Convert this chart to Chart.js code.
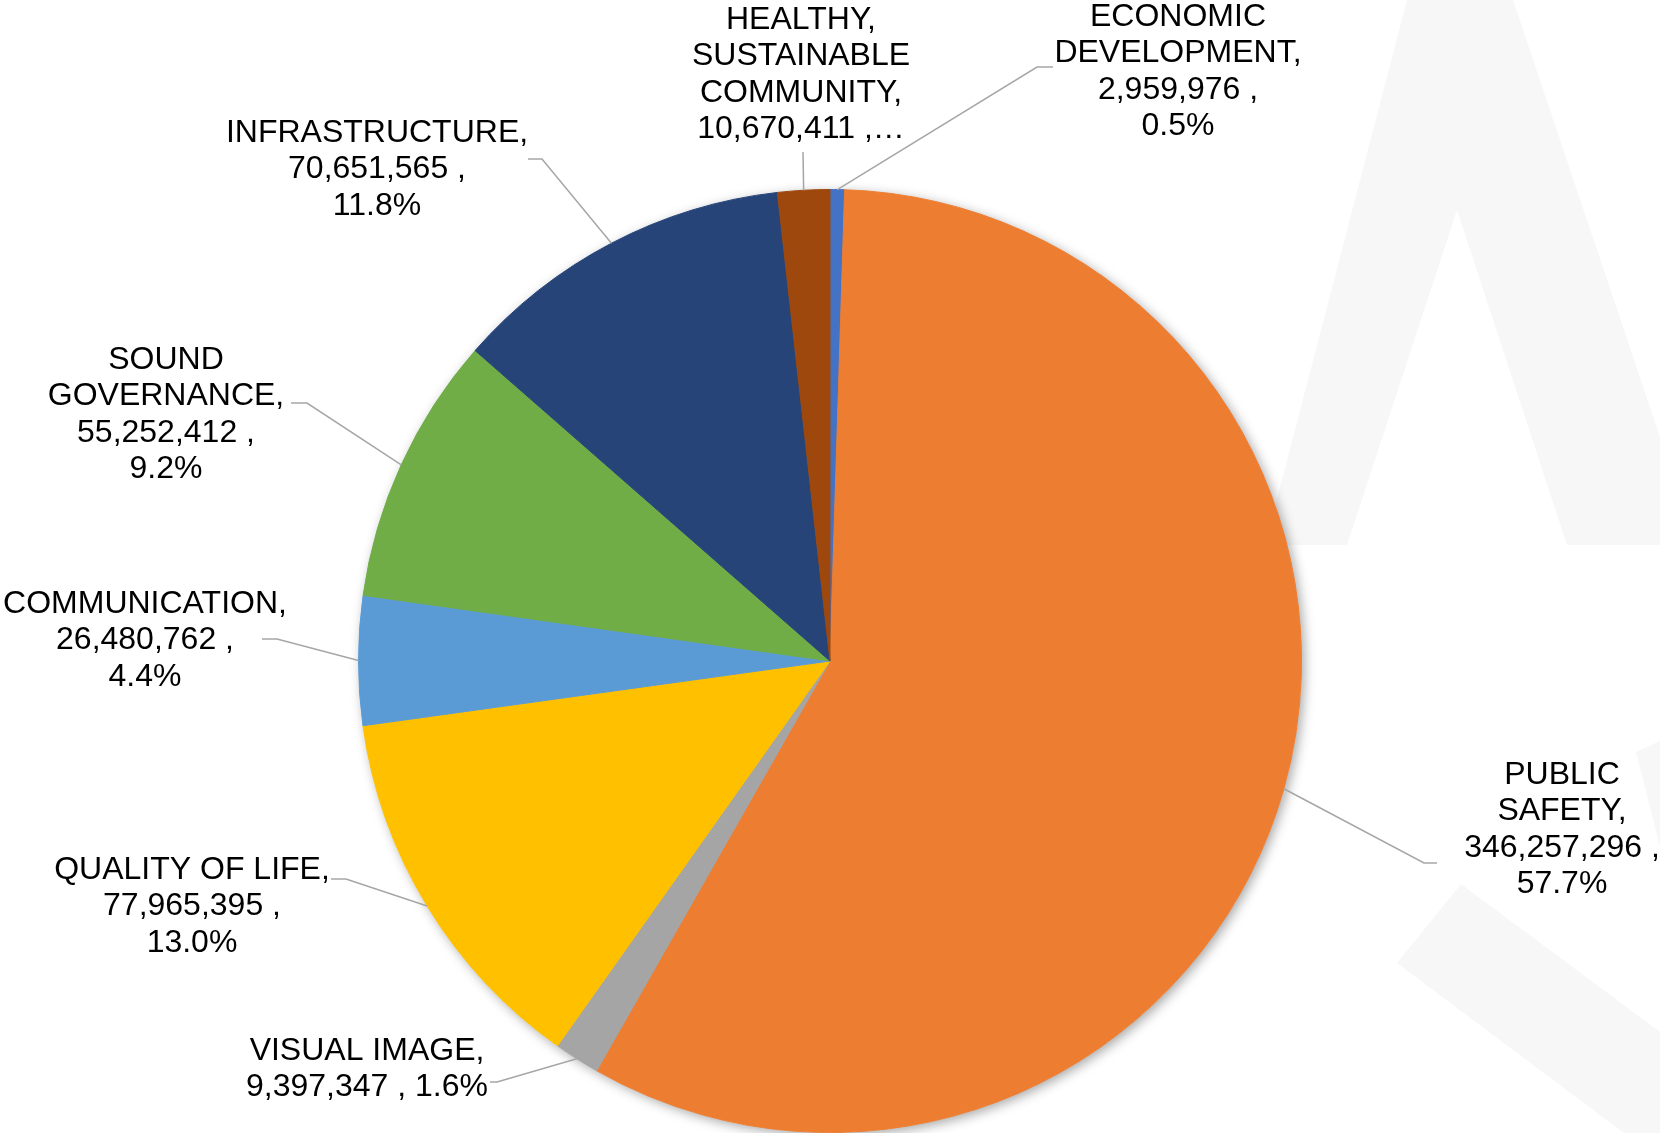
<!DOCTYPE html>
<html>
<head>
<meta charset="utf-8">
<script src="https://cdn.jsdelivr.net/npm/chart.js@4.4.1/dist/chart.umd.min.js"></script>
<style>
  html, body { margin: 0; padding: 0; background: #ffffff; }
  #wrap { width: 1660px; height: 1133px; position: relative; }
</style>
</head>
<body>
<div id="wrap"><canvas id="pie" width="1660" height="1133"></canvas></div>
<script>
// data, clockwise from 12 o'clock
const categories = [
    'ECONOMIC DEVELOPMENT',
    'PUBLIC SAFETY',
    'VISUAL IMAGE',
    'QUALITY OF LIFE',
    'COMMUNICATION',
    'SOUND GOVERNANCE',
    'INFRASTRUCTURE',
    'HEALTHY, SUSTAINABLE COMMUNITY'
];
const values = [2959976, 346257296, 9397347, 77965395, 26480762, 55252412, 70651565, 10670411];
const colors = ['#4472C4', '#ED7D31', '#A5A5A5', '#FFC000', '#5B9BD5', '#70AD47', '#264478', '#9E480E'];

// how each data label wraps: words of the name per line
const nameWrap = [[1, 1], [1, 1], [2], [3], [1], [1, 1], [1], [1, 1, 1]];
// value and percent on one line (visual image), label cut short (healthy)
const sameLine = [false, false, true, false, false, false, false, false];
const clipped = [false, false, false, false, false, false, false, true];

// label box: centre x, first line centre y, leader elbow, leader end at label
const labelLayout = [
    { cx: 1178, y: 17,   elbow: [1037, 67],  end: [1053, 67] },
    { cx: 1562, y: 775,  elbow: [1424, 863], end: [1437, 863] },
    { cx: 367,  y: 1051, elbow: [497, 1082], end: [490, 1082] },
    { cx: 192,  y: 870,  elbow: [346, 879],  end: [331, 879] },
    { cx: 145,  y: 604,  elbow: [277, 639],  end: [262, 639] },
    { cx: 166,  y: 360,  elbow: [307, 403],  end: [291, 403] },
    { cx: 377,  y: 133,  elbow: [542, 159],  end: [528, 159] },
    { cx: 801,  y: 20,   elbow: [803, 152],  end: [803, 152] }
];
const lineHeight = 36.5;
const labelFont = '32px "Liberation Sans", Arial, sans-serif';

const total = values.reduce((a, b) => a + b, 0);

function labelLines(i) {
    const words = categories[i].split(' ');
    const lines = [];
    let k = 0;
    nameWrap[i].forEach(n => {
        lines.push(words.slice(k, k + n).join(' '));
        k += n;
    });
    if (!lines[lines.length - 1].endsWith(',')) lines[lines.length - 1] += ',';
    const val = values[i].toLocaleString('en-US') + ' ,';
    const pct = (values[i] / total * 100).toFixed(1) + '%';
    if (clipped[i]) {
        lines.push(val + '\u2026');
    } else if (sameLine[i]) {
        lines.push(val + ' ' + pct);
    } else {
        lines.push(val);
        lines.push(pct);
    }
    return lines;
}

// faint logo watermark behind the chart
const watermark = {
    id: 'watermark',
    beforeDraw(chart) {
        const ctx = chart.ctx;
        ctx.save();
        ctx.fillStyle = '#f7f7f7';
        ctx.beginPath();
        ctx.moveTo(1265, 545);
        ctx.lineTo(1407, 0);
        ctx.lineTo(1513, 0);
        ctx.lineTo(1660, 437);
        ctx.lineTo(1660, 545);
        ctx.closePath();
        ctx.moveTo(1347, 545);
        ctx.lineTo(1457, 210);
        ctx.lineTo(1567, 545);
        ctx.closePath();
        ctx.fill('evenodd');
        ctx.beginPath();
        ctx.moveTo(1397, 963);
        ctx.lineTo(1461, 884);
        ctx.lineTo(1660, 1032);
        ctx.lineTo(1660, 1160);
        ctx.closePath();
        ctx.fill();
        ctx.beginPath();
        ctx.moveTo(1636, 752);
        ctx.lineTo(1660, 741);
        ctx.lineTo(1660, 847);
        ctx.closePath();
        ctx.fill();
        ctx.restore();
    }
};

// soft shadow under the whole pie
const pieShadow = {
    id: 'pieShadow',
    beforeDatasetsDraw(chart) {
        const arc = chart.getDatasetMeta(0).data[0];
        if (!arc) return;
        const ctx = chart.ctx;
        ctx.save();
        ctx.shadowColor = 'rgba(0, 0, 0, 0.35)';
        ctx.shadowBlur = 12;
        ctx.shadowOffsetX = 3;
        ctx.shadowOffsetY = 3;
        ctx.fillStyle = '#ffffff';
        ctx.beginPath();
        ctx.arc(arc.x, arc.y, arc.outerRadius, 0, Math.PI * 2);
        ctx.fill();
        ctx.restore();
    }
};

// data labels with leader lines
const outsideLabels = {
    id: 'outsideLabels',
    afterDatasetsDraw(chart) {
        const ctx = chart.ctx;
        const arcs = chart.getDatasetMeta(0).data;
        ctx.save();
        arcs.forEach((arc, i) => {
            const lay = labelLayout[i];
            const mid = (arc.startAngle + arc.endAngle) / 2;
            const sx = arc.x + Math.cos(mid) * arc.outerRadius;
            const sy = arc.y + Math.sin(mid) * arc.outerRadius;
            ctx.strokeStyle = '#a6a6a6';
            ctx.lineWidth = 1.5;
            ctx.beginPath();
            ctx.moveTo(sx, sy);
            ctx.lineTo(lay.elbow[0], lay.elbow[1]);
            ctx.lineTo(lay.end[0], lay.end[1]);
            ctx.stroke();

            ctx.fillStyle = '#000000';
            ctx.font = labelFont;
            ctx.textAlign = 'center';
            ctx.textBaseline = 'middle';
            labelLines(i).forEach((line, j) => {
                ctx.fillText(line, lay.cx, lay.y + j * lineHeight);
            });
        });
        ctx.restore();
    }
};

new Chart(document.getElementById('pie'), {
    type: 'pie',
    data: {
        labels: categories,
        datasets: [{
            data: values,
            backgroundColor: colors,
            borderColor: colors,
            borderWidth: 1,
            offset: 0,
            hoverOffset: 0
        }]
    },
    options: {
        responsive: false,
        animation: false,
        devicePixelRatio: 1,
        layout: { padding: { top: 189, bottom: 0, left: 358, right: 358 } },
        plugins: {
            legend: { display: false },
            tooltip: { enabled: false }
        }
    },
    plugins: [watermark, pieShadow, outsideLabels]
});
</script>
</body>
</html>
